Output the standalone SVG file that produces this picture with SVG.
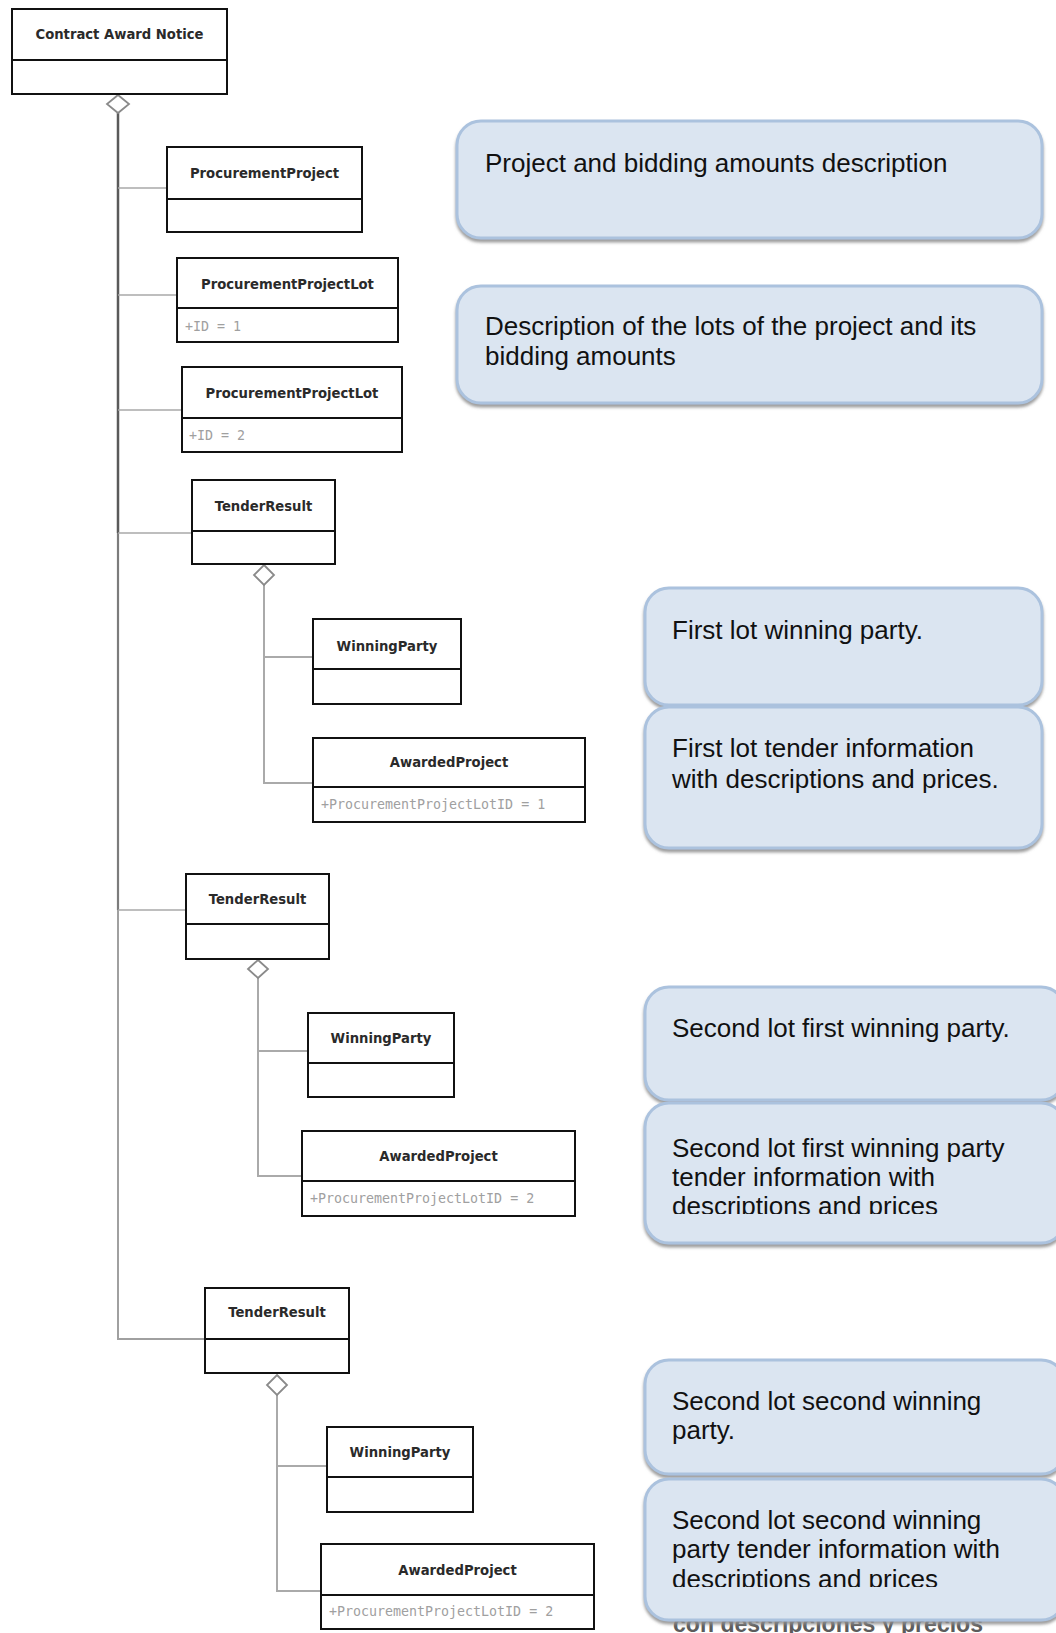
<svg xmlns="http://www.w3.org/2000/svg" width="1056" height="1633" viewBox="0 0 1056 1633">
  <defs>
    <style>
      .cls { fill: #ffffff; stroke: #111111; stroke-width: 2; }
      .div { stroke: #111111; stroke-width: 2; }
      .name { font-family: "DejaVu Sans", "Liberation Sans", sans-serif; font-weight: bold; font-size: 13.2px; fill: #2a2a2a; text-anchor: middle; }
      .attr { font-family: "DejaVu Sans Mono", "Liberation Mono", monospace; font-size: 13.3px; fill: #a0a0a0; }
      .trunk { fill: none; stroke: #5a5a5a; stroke-width: 2.5; }
      .trunk2 { fill: none; stroke: #7c7c7c; stroke-width: 2.2; }
      .trunk3 { fill: none; stroke: #a0a0a0; stroke-width: 2; }
      .branch { fill: none; stroke: #a8a8a8; stroke-width: 1.6; }
      .sub { fill: none; stroke: #aaaaaa; stroke-width: 2; }
      .dia { fill: #ffffff; stroke: #8a8a8a; stroke-width: 1.8; }
      .note { fill: #dbe5f1; stroke: #abc2de; stroke-width: 3; filter: url(#drop); }
      .ntext { font-family: "Liberation Sans", Arial, sans-serif; font-size: 26px; fill: #111111; }
      .ghost { font-family: "Liberation Sans", Arial, sans-serif; font-weight: bold; font-size: 24px; fill: #5c5c5c; }
    </style>
    <filter id="drop" x="-5%" y="-10%" width="110%" height="125%">
      <feDropShadow dx="0" dy="3" stdDeviation="1.4" flood-color="#8c8c8c" flood-opacity="0.85"/>
    </filter>
    <clipPath id="clipB6"><rect x="645" y="1103" width="420" height="111"/></clipPath>
    <clipPath id="clipB8"><rect x="645" y="1479" width="420" height="108"/></clipPath>
  </defs>

  <rect x="0" y="0" width="1056" height="1633" fill="#ffffff"/>

  <!-- aggregation connectors -->
  <g id="connectors">
    <path class="trunk" d="M118,113 V533"/>
    <path class="trunk2" d="M118,533 V910"/>
    <path class="trunk3" d="M118,910 V1339 H205"/>
    <path class="branch" d="M118,188 H167"/>
    <path class="branch" d="M118,295 H177"/>
    <path class="branch" d="M118,410 H182"/>
    <path class="branch" d="M118,533 H192"/>
    <path class="branch" d="M118,910 H186"/>
    <polygon class="dia" points="118,95 129,104 118,113 107,104"/>

    <path class="sub" d="M264,585 V783 H313"/>
    <path class="sub" d="M264,657 H313"/>
    <polygon class="dia" points="264,565 274,575 264,585 254,575"/>

    <path class="sub" d="M258,978 V1176 H302"/>
    <path class="sub" d="M258,1051 H308"/>
    <polygon class="dia" points="258,960 268,969 258,978 248,969"/>

    <path class="sub" d="M277,1395 V1591 H321"/>
    <path class="sub" d="M277,1466 H327"/>
    <polygon class="dia" points="277,1375 287,1385 277,1395 267,1385"/>
  </g>

  <!-- class boxes -->
  <g id="contract-award-notice">
    <rect class="cls" x="12" y="9" width="215" height="85"/>
    <line class="div" x1="12" y1="60" x2="227" y2="60"/>
    <text class="name" x="119.5" y="39">Contract Award Notice</text>
  </g>
  <g id="procurement-project">
    <rect class="cls" x="167" y="147" width="195" height="85"/>
    <line class="div" x1="167" y1="199" x2="362" y2="199"/>
    <text class="name" x="264.5" y="178">ProcurementProject</text>
  </g>
  <g id="procurement-project-lot-1">
    <rect class="cls" x="177" y="258" width="221" height="84"/>
    <line class="div" x1="177" y1="308" x2="398" y2="308"/>
    <text class="name" x="287.5" y="289">ProcurementProjectLot</text>
    <text class="attr" x="185" y="331">+ID = 1</text>
  </g>
  <g id="procurement-project-lot-2">
    <rect class="cls" x="182" y="367" width="220" height="85"/>
    <line class="div" x1="182" y1="418" x2="402" y2="418"/>
    <text class="name" x="292" y="398">ProcurementProjectLot</text>
    <text class="attr" x="189" y="440">+ID = 2</text>
  </g>

  <g id="tender-result-1">
    <rect class="cls" x="192" y="480" width="143" height="84"/>
    <line class="div" x1="192" y1="531" x2="335" y2="531"/>
    <text class="name" x="263.5" y="511">TenderResult</text>
  </g>
  <g id="winning-party-1">
    <rect class="cls" x="313" y="619" width="148" height="85"/>
    <line class="div" x1="313" y1="669" x2="461" y2="669"/>
    <text class="name" x="387" y="651">WinningParty</text>
  </g>
  <g id="awarded-project-1">
    <rect class="cls" x="313" y="738" width="272" height="84"/>
    <line class="div" x1="313" y1="787" x2="585" y2="787"/>
    <text class="name" x="449" y="767">AwardedProject</text>
    <text class="attr" x="321" y="809">+ProcurementProjectLotID = 1</text>
  </g>

  <g id="tender-result-2">
    <rect class="cls" x="186" y="874" width="143" height="85"/>
    <line class="div" x1="186" y1="924" x2="329" y2="924"/>
    <text class="name" x="257.5" y="904">TenderResult</text>
  </g>
  <g id="winning-party-2">
    <rect class="cls" x="308" y="1013" width="146" height="84"/>
    <line class="div" x1="308" y1="1063" x2="454" y2="1063"/>
    <text class="name" x="381" y="1043">WinningParty</text>
  </g>
  <g id="awarded-project-2">
    <rect class="cls" x="302" y="1131" width="273" height="85"/>
    <line class="div" x1="302" y1="1181" x2="575" y2="1181"/>
    <text class="name" x="438.5" y="1161">AwardedProject</text>
    <text class="attr" x="310" y="1203">+ProcurementProjectLotID = 2</text>
  </g>

  <g id="tender-result-3">
    <rect class="cls" x="205" y="1288" width="144" height="85"/>
    <line class="div" x1="205" y1="1339" x2="349" y2="1339"/>
    <text class="name" x="277" y="1317">TenderResult</text>
  </g>
  <g id="winning-party-3">
    <rect class="cls" x="327" y="1427" width="146" height="85"/>
    <line class="div" x1="327" y1="1477" x2="473" y2="1477"/>
    <text class="name" x="400" y="1457">WinningParty</text>
  </g>
  <g id="awarded-project-3">
    <rect class="cls" x="321" y="1544" width="273" height="85"/>
    <line class="div" x1="321" y1="1595" x2="594" y2="1595"/>
    <text class="name" x="457.5" y="1575">AwardedProject</text>
    <text class="attr" x="329" y="1616">+ProcurementProjectLotID = 2</text>
  </g>

  <!-- explanatory notes -->
  <g id="note-project">
    <rect class="note" x="457" y="121" width="585" height="117" rx="24"/>
    <text class="ntext" x="485" y="172">Project and bidding amounts description</text>
  </g>
  <g id="note-lots">
    <rect class="note" x="457" y="286" width="585" height="117" rx="24"/>
    <text class="ntext" x="485" y="335">Description of the lots of the project and its</text>
    <text class="ntext" x="485" y="365">bidding amounts</text>
  </g>
  <g id="note-lot1-party">
    <rect class="note" x="645" y="588" width="397" height="117" rx="24"/>
    <text class="ntext" x="672" y="639">First lot winning party.</text>
  </g>
  <g id="note-lot1-tender">
    <rect class="note" x="645" y="707" width="397" height="141" rx="24"/>
    <text class="ntext" x="672" y="757">First lot tender information</text>
    <text class="ntext" x="672" y="788">with descriptions and prices.</text>
  </g>
  <g id="note-lot2-party1">
    <rect class="note" x="645" y="987" width="420" height="113" rx="24"/>
    <text class="ntext" x="672" y="1037">Second lot first winning party.</text>
  </g>
  <g id="note-lot2-tender1">
    <rect class="note" x="645" y="1103" width="420" height="140" rx="24"/>
    <g clip-path="url(#clipB6)">
      <text class="ntext" x="672" y="1157">Second lot first winning party</text>
      <text class="ntext" x="672" y="1186">tender information with</text>
      <text class="ntext" x="672" y="1215">descriptions and prices</text>
    </g>
  </g>
  <g id="note-lot2-party2">
    <rect class="note" x="645" y="1360" width="420" height="114" rx="24"/>
    <text class="ntext" x="672" y="1410">Second lot second winning</text>
    <text class="ntext" x="672" y="1439">party.</text>
  </g>
  <!-- trailing caption partly hidden behind the last note -->
  <text class="ghost" x="673" y="1632" textLength="310" lengthAdjust="spacingAndGlyphs">con descripciones y precios</text>
  <g id="note-lot2-tender2">
    <rect class="note" x="645" y="1479" width="420" height="141" rx="24"/>
    <g clip-path="url(#clipB8)">
      <text class="ntext" x="672" y="1529">Second lot second winning</text>
      <text class="ntext" x="672" y="1558">party tender information with</text>
      <text class="ntext" x="672" y="1588">descriptions and prices</text>
    </g>
  </g>
</svg>
